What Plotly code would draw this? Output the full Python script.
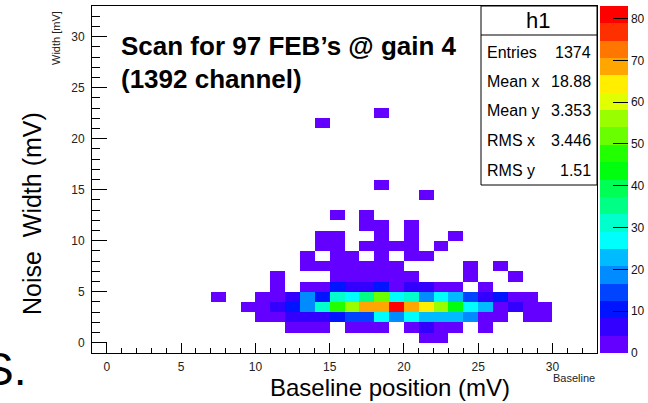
import colorsys
import plotly.graph_objects as go

# ---------------- data ----------------
# lower edges of baseline-position bins (mV), one column per bin
baseline_bins = [7, 8, 9, 10, 11, 12, 13, 14, 15, 16, 17, 18, 19, 20, 21, 22, 23, 24, 25, 26, 27, 28, 29]
# lower edges of noise-width bins (mV), one row per bin
width_bins = [0, 1, 2, 3, 4, 5, 6, 7, 8, 9, 10, 11, 12, 14, 15, 21, 22]
# counts per (width row, baseline column); 0 = empty bin
counts = [
    # 7  8  9 10 11 12 13 14 15 16 17 18 19 20 21 22 23 24 25 26 27 28 29
    [0, 0, 0, 0, 0, 0, 0, 0, 0, 0, 0, 0, 0, 0, 1, 2, 0, 0, 0, 0, 0, 0, 0],
    [0, 0, 0, 0, 0, 2, 3, 2, 0, 2, 3, 2, 0, 3, 5, 3, 2, 0, 2, 0, 0, 0, 0],
    [0, 0, 0, 2, 3, 6, 7, 7, 10, 14, 15, 26, 19, 27, 22, 22, 21, 18, 4, 3, 0, 2, 2],
    [0, 0, 2, 3, 6, 10, 18, 31, 46, 56, 68, 70, 83, 67, 64, 55, 42, 27, 21, 3, 6, 2, 2],
    [1, 0, 0, 2, 3, 7, 17, 11, 31, 27, 35, 51, 26, 30, 19, 26, 22, 14, 7, 10, 3, 2, 0],
    [0, 0, 0, 0, 2, 0, 3, 4, 11, 7, 7, 10, 4, 6, 7, 3, 3, 0, 2, 0, 0, 0, 0],
    [0, 0, 0, 0, 2, 0, 0, 0, 2, 3, 2, 2, 3, 2, 0, 0, 0, 1, 0, 0, 1, 0, 0],
    [0, 0, 0, 0, 0, 0, 2, 2, 3, 2, 2, 2, 2, 0, 0, 0, 0, 1, 0, 1, 0, 0, 0],
    [0, 0, 0, 0, 0, 0, 2, 0, 2, 2, 0, 1, 0, 2, 1, 0, 0, 0, 0, 0, 0, 0, 0],
    [0, 0, 0, 0, 0, 0, 0, 2, 2, 0, 2, 2, 1, 2, 0, 1, 0, 0, 0, 0, 0, 0, 0],
    [0, 0, 0, 0, 0, 0, 0, 2, 2, 0, 0, 2, 0, 1, 0, 0, 1, 0, 0, 0, 0, 0, 0],
    [0, 0, 0, 0, 0, 0, 0, 0, 0, 0, 1, 2, 0, 1, 0, 0, 0, 0, 0, 0, 0, 0, 0],
    [0, 0, 0, 0, 0, 0, 0, 0, 1, 0, 1, 0, 0, 0, 0, 0, 0, 0, 0, 0, 0, 0, 0],
    [0, 0, 0, 0, 0, 0, 0, 0, 0, 0, 0, 0, 0, 0, 1, 0, 0, 0, 0, 0, 0, 0, 0],
    [0, 0, 0, 0, 0, 0, 0, 0, 0, 0, 0, 1, 0, 0, 0, 0, 0, 0, 0, 0, 0, 0, 0],
    [0, 0, 0, 0, 0, 0, 0, 1, 0, 0, 0, 0, 0, 0, 0, 0, 0, 0, 0, 0, 0, 0, 0],
    [0, 0, 0, 0, 0, 0, 0, 0, 0, 0, 0, 1, 0, 0, 0, 0, 0, 0, 0, 0, 0, 0, 0],
]
stat_labels = ["Entries", "Mean x", "Mean y", "RMS x", "RMS y"]
stat_values = ["1374", "18.88", "3.353", "3.446", "1.51"]
x_ticks = [0, 5, 10, 15, 20, 25, 30]
y_ticks = [0, 5, 10, 15, 20, 25, 30]
z_ticks = [0, 10, 20, 30, 40, 50, 60, 70, 80]
z_max = 83

# ---------------- build full grid (empty bins -> None) ----------------
n_x = 34  # bins from -1 to 33
n_y = 34
xc = [-1 + k + 0.5 for k in range(n_x)]
yc = [-1 + k + 0.5 for k in range(n_y)]
Z = [[None] * n_x for _ in range(n_y)]
for r, wb in enumerate(width_bins):
    for c, bb in enumerate(baseline_bins):
        v = counts[r][c]
        if v:
            Z[wb + 1][bb + 1] = v

# ROOT "pretty" palette with 20 contour levels
n_lev = 20
cols = []
for c in range(n_lev):
    idx = int((c + 0.99) * 50 / n_lev)
    hue = 280 - (idx + 1) * 280 / 50
    r, g, b = colorsys.hls_to_rgb(hue / 360.0, 0.5, 1.0)
    cols.append("rgb(%d,%d,%d)" % (round(r * 255), round(g * 255), round(b * 255)))
cscale = []
for c in range(n_lev):
    cscale.append([c / n_lev, cols[c]])
    cscale.append([(c + 1) / n_lev, cols[c]])

# ---------------- geometry ----------------
L, R, T, B = 92, 597, 6, 353
W, H = 648, 403


def px(xp):
    return (xp - L) / (R - L)


def py(yp):
    return (B - yp) / (B - T)


fig = go.Figure()
fig.add_trace(go.Heatmap(
    x=xc, y=yc, z=Z, zmin=0, zmax=z_max, colorscale=cscale,
    hoverongaps=False,
    colorbar=dict(
        x=px(600), xanchor="left", xpad=0, y=0, yanchor="bottom", ypad=0,
        len=1.0, lenmode="fraction", thickness=28, thicknessmode="pixels",
        outlinewidth=0, tickmode="array", tickvals=z_ticks,
        ticks="inside", ticklen=15, tickcolor="black", tickwidth=1,
        tickfont=dict(family="Liberation Sans, Arial", size=12, color="#111"),
    ),
))

axis_font = dict(family="Liberation Sans, Arial", size=12, color="#222")
fig.update_xaxes(
    range=[-1, 33], showgrid=False, zeroline=False,
    showline=True, linecolor="black", linewidth=1, mirror=True,
    tickmode="array", tickvals=x_ticks, ticks="inside", ticklen=10, tickcolor="black",
    tickfont=axis_font, ticklabelstandoff=3,
    minor=dict(dtick=1, ticks="inside", ticklen=5, tickcolor="black", showgrid=False),
)
fig.update_yaxes(
    range=[-1, 33], showgrid=False, zeroline=False,
    showline=True, linecolor="black", linewidth=1, mirror=True,
    tickmode="array", tickvals=y_ticks, ticks="inside", ticklen=15, tickcolor="black",
    tickfont=axis_font, ticklabelstandoff=4,
    minor=dict(dtick=1, ticks="inside", ticklen=8, tickcolor="black", showgrid=False),
)

ann = []
big = "Liberation Sans, Arial"
ann.append(dict(text="<b>Scan for 97 FEB’s @ gain 4</b>", x=px(119), y=py(46), xanchor="left", yanchor="middle",
                font=dict(family=big, size=26, color="black")))
ann.append(dict(text="<b>(1392 channel)</b>", x=px(119), y=py(79), xanchor="left", yanchor="middle",
                font=dict(family=big, size=26, color="black")))
ann.append(dict(text="Noise  Width (mV)", x=px(32), y=py(214), xanchor="center", yanchor="middle",
                textangle=-90, font=dict(family=big, size=25, color="black")))
ann.append(dict(text="Baseline position (mV)", x=px(390), y=py(387), xanchor="center", yanchor="middle",
                font=dict(family=big, size=24, color="black")))
ann.append(dict(text="S.", x=px(28), y=py(369), xanchor="right", yanchor="middle",
                font=dict(family=big, size=46, color="black")))
ann.append(dict(text="Width [mV]", x=px(56), y=py(38), xanchor="center", yanchor="middle",
                textangle=-90, font=dict(family=big, size=11, color="#222")))
ann.append(dict(text="Baseline", x=px(597), y=py(378), xanchor="right", yanchor="middle",
                font=dict(family=big, size=11, color="#222")))
# stats box
ann.append(dict(text="h1", x=px(538), y=py(21), xanchor="center", yanchor="middle",
                font=dict(family=big, size=22, color="black")))
row_y = [52, 81, 110, 140, 170]
for lab, val, yy in zip(stat_labels, stat_values, row_y):
    ann.append(dict(text=lab, x=px(485), y=py(yy), xanchor="left", yanchor="middle",
                    font=dict(family=big, size=16, color="black")))
    ann.append(dict(text=val, x=px(593), y=py(yy), xanchor="right", yanchor="middle",
                    font=dict(family=big, size=16, color="black")))
for a in ann:
    a.update(xref="paper", yref="paper", showarrow=False)

shapes = [
    dict(type="rect", xref="paper", yref="paper", x0=px(481), x1=px(597), y0=py(185), y1=py(6),
         line=dict(color="black", width=1), fillcolor="white", layer="above"),
    dict(type="line", xref="paper", yref="paper", x0=px(481), x1=px(597), y0=py(35), y1=py(35),
         line=dict(color="black", width=1), layer="above"),
]

fig.update_layout(
    width=W, height=H,
    margin=dict(l=L, r=W - R, t=T, b=H - B, autoexpand=False),
    paper_bgcolor="white", plot_bgcolor="white",
    annotations=ann, shapes=shapes, showlegend=False,
)
fig.write_html("out.html")
